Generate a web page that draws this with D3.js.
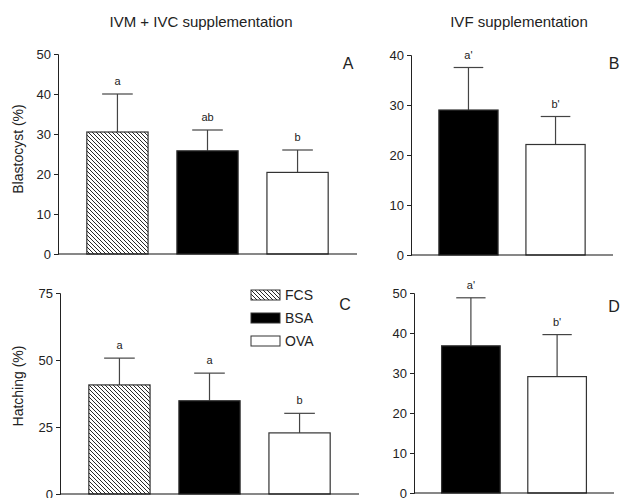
<!DOCTYPE html>
<html>
<head>
<meta charset="utf-8">
<script src="https://cdn.jsdelivr.net/npm/d3@7"></script>
<style>
  body{margin:0;background:#fff;}
  svg text{font-family:"Liberation Sans",Arial,sans-serif;fill:#222;}
</style>
</head>
<body>
<div id="chart"></div>
<script>
// treatments
const groupsIvm=["FCS","BSA","OVA"];
const groupsIvf=["BSA","OVA"];
// blastocyst (%) mean and error
const blastIvm=[30.5,25.8,20.4], blastIvmErr=[9.5,5.2,5.6], blastIvmSig=["a","ab","b"];
const blastIvf=[29.0,22.1], blastIvfErr=[8.5,5.6], blastIvfSig=["a'","b'"];
// hatching (%) mean and error
const hatchIvm=[40.7,34.8,22.8], hatchIvmErr=[10.0,10.3,7.3], hatchIvmSig=["a","a","b"];
const hatchIvf=[36.8,29.1], hatchIvfErr=[12.0,10.5], hatchIvfSig=["a'","b'"];
// axis ticks
const ticksA=[0,10,20,30,40,50], ticksB=[0,10,20,30,40], ticksC=[0,25,50,75], ticksD=[0,10,20,30,40,50];

const W=622,H=498;
const svg=d3.select("#chart").append("svg").attr("width",W).attr("height",H);
const defs=svg.append("defs");
defs.append("pattern").attr("id","hatch").attr("patternUnits","userSpaceOnUse").attr("width",4).attr("height",4)
  .append("path").attr("d","M0,0L4,4M-1,3L1,5M3,-1L5,1").attr("stroke","#111").attr("stroke-width",0.9);
const fills={FCS:"url(#hatch)",BSA:"#000",OVA:"#fff"};

function panel(o){
  const x=d3.scaleBand().domain(o.groups).range(o.xr).paddingInner(.32).paddingOuter(.32);
  const y=d3.scaleLinear().domain([0,o.max]).range(o.yr);
  const g=svg.append("g");
  g.append("g").attr("transform",`translate(${o.xr[0]},0)`)
    .call(d3.axisLeft(y).tickValues(o.ticks).tickSize(4).tickPadding(3))
    .call(s=>s.select(".domain").attr("stroke","#222"))
    .call(s=>s.selectAll("line").attr("stroke","#222"))
    .call(s=>s.selectAll("text").attr("font-size",13).attr("fill","#222").style("font-family","Liberation Sans, Arial, sans-serif"));
  const d=o.groups.map((k,i)=>({k,v:o.vals[i],e:o.errs[i],s:o.sig[i]}));
  // error bars
  g.selectAll(".eb").data(d).join("line")
    .attr("x1",q=>x(q.k)+x.bandwidth()/2).attr("x2",q=>x(q.k)+x.bandwidth()/2)
    .attr("y1",q=>y(q.v)).attr("y2",q=>y(q.v+q.e)).attr("stroke","#444").attr("stroke-width",1.2);
  g.selectAll(".cap").data(d).join("line")
    .attr("x1",q=>x(q.k)+x.bandwidth()/4).attr("x2",q=>x(q.k)+x.bandwidth()*3/4)
    .attr("y1",q=>y(q.v+q.e)).attr("y2",q=>y(q.v+q.e)).attr("stroke","#444").attr("stroke-width",1.2);
  g.selectAll(".bar").data(d).join("rect")
    .attr("x",q=>x(q.k)).attr("width",x.bandwidth())
    .attr("y",q=>y(q.v)).attr("height",q=>y(0)-y(q.v))
    .attr("fill",q=>fills[q.k]).attr("stroke","#333").attr("stroke-width",1.2);
  g.selectAll(".sig").data(d).join("text")
    .attr("x",q=>x(q.k)+x.bandwidth()/2).attr("y",q=>y(q.v+q.e)-9)
    .attr("text-anchor","middle").attr("font-size",11).text(q=>q.s);
  // x baseline
  g.append("line").attr("x1",o.xr[0]).attr("x2",o.xr[1]).attr("y1",y(0)).attr("y2",y(0)).attr("stroke","#111").attr("stroke-width",1.2);
  g.append("text").attr("x",o.lx).attr("y",o.ly).attr("text-anchor","middle").attr("font-size",16).text(o.letter);
  if(o.ylab) g.append("text").attr("transform",`translate(23,${o.yl}) rotate(-90)`)
    .attr("text-anchor","middle").attr("font-size",14).text(o.ylab);
}

panel({groups:groupsIvm,vals:blastIvm,errs:blastIvmErr,sig:blastIvmSig,max:50,ticks:ticksA,xr:[58,357],yr:[254,54],letter:"A",lx:348,ly:69,ylab:"Blastocyst (%)",yl:149});
panel({groups:groupsIvf,vals:blastIvf,errs:blastIvfErr,sig:blastIvfSig,max:40,ticks:ticksB,xr:[411,613],yr:[255,55],letter:"B",lx:614,ly:69});
panel({groups:groupsIvm,vals:hatchIvm,errs:hatchIvmErr,sig:hatchIvmSig,max:75,ticks:ticksC,xr:[60,359],yr:[494,293],letter:"C",lx:345,ly:310,ylab:"Hatching (%)",yl:386});
panel({groups:groupsIvf,vals:hatchIvf,errs:hatchIvfErr,sig:hatchIvfSig,max:50,ticks:ticksD,xr:[414,614],yr:[493,293],letter:"D",lx:614,ly:312});

svg.append("text").attr("x",201).attr("y",27).attr("text-anchor","middle").attr("font-size",15).text("IVM + IVC supplementation");
svg.append("text").attr("x",519).attr("y",27).attr("text-anchor","middle").attr("font-size",15).text("IVF supplementation");

// legend
const leg=svg.append("g").attr("transform","translate(251,290)");
const li=leg.selectAll("g").data(groupsIvm).join("g").attr("transform",(k,i)=>`translate(0,${i*23})`);
li.append("rect").attr("width",29).attr("height",10).attr("fill",k=>fills[k]).attr("stroke","#333").attr("stroke-width",1);
li.append("text").attr("x",34).attr("y",10).attr("font-size",14).text(k=>k);
</script>
</body>
</html>
